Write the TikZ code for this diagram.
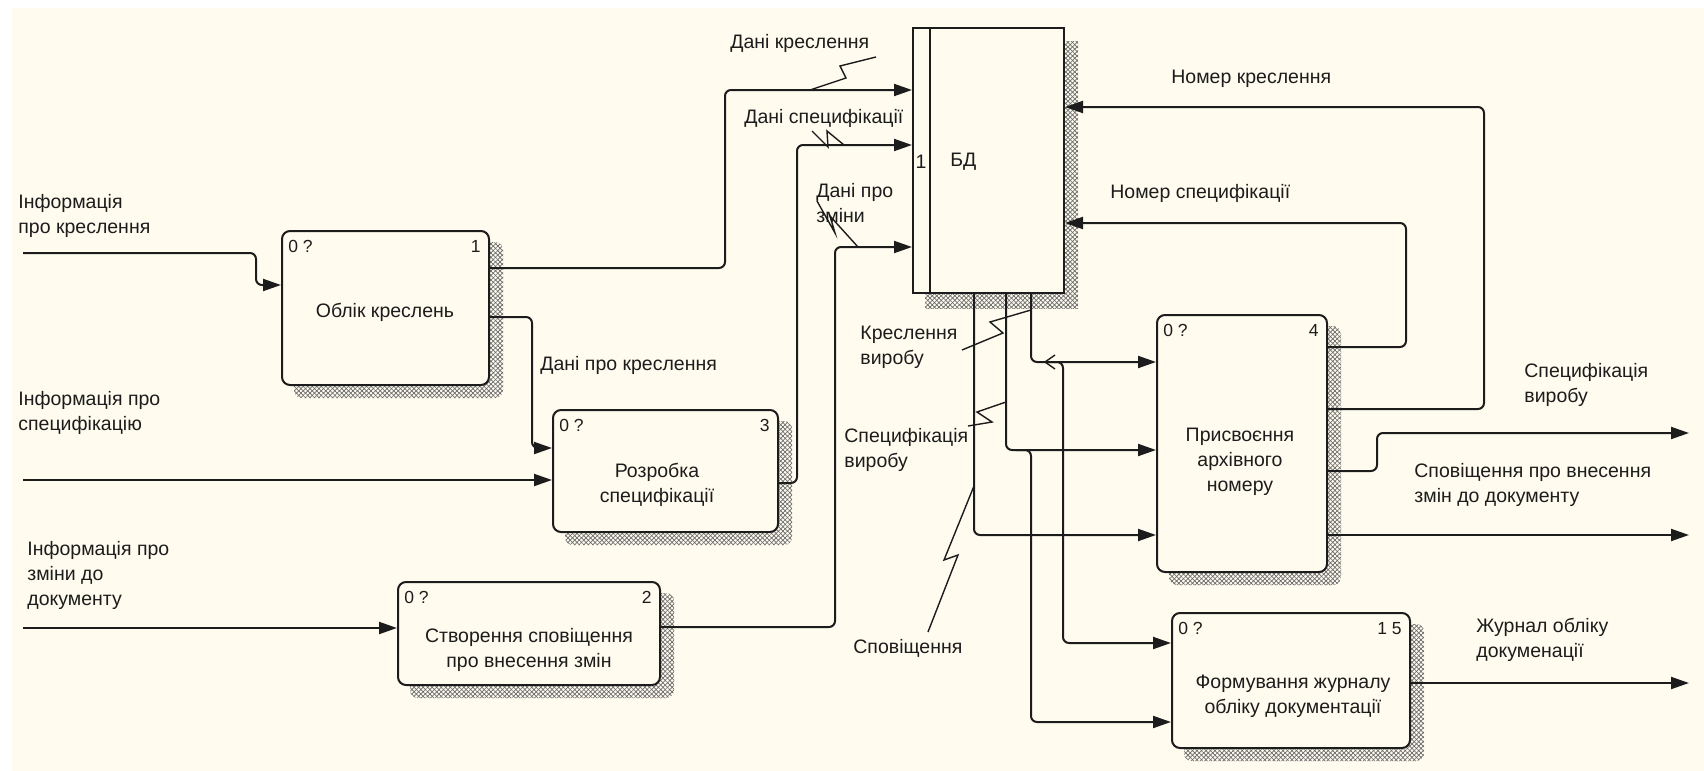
\documentclass[tikz,border=0pt]{standalone}
\usepackage{fontspec}
\setmainfont{Liberation Sans}
\usetikzlibrary{arrows.meta,patterns.meta,backgrounds}

\definecolor{paper}{HTML}{FFFBEF}
\definecolor{ink}{HTML}{1C1C1C}
\definecolor{hatch}{HTML}{6A6A6A}

\tikzset{
  proc/.style={draw=ink, line width=1pt, fill=paper, rounded corners=4pt, inner sep=0pt},
  store/.style={draw=ink, line width=1pt, fill=paper, inner sep=0pt},
  lbl/.style={font=\fontsize{9.75}{12.5}\selectfont, text=ink, inner sep=0pt, align=left},
  ttl/.style={lbl, align=center},
  tag/.style={font=\fontsize{8.75}{10}\selectfont, text=ink, inner sep=0pt},
  flow/.style={draw=ink, line width=1pt, rounded corners=3pt, -{Triangle[length=9pt,width=6pt]}},
  bolt/.style={draw=ink, line width=0.7pt},
  hatched/.style={
    preaction={fill=paper},
    preaction={pattern={Lines[angle=45,distance=1.6pt,line width=0.35pt]}, pattern color=hatch},
    pattern={Lines[angle=-45,distance=1.6pt,line width=0.35pt]}, pattern color=hatch}
}

\begin{document}
\begin{tikzpicture}[x=0.5pt,y=-0.5pt]
\useasboundingbox (0,0) rectangle (1704,771);

% activity boxes and the data store
\node[proc, minimum width=103.5pt, minimum height=77pt]   (b1) at (385.5,308) {};
\node[proc, minimum width=112.5pt, minimum height=61pt]   (b3) at (665.5,471) {};
\node[proc, minimum width=131pt,   minimum height=51.5pt] (b2) at (529,633.5) {};
\node[store, minimum width=75.5pt, minimum height=132.5pt] (db) at (988.5,160.5) {};
\node[proc, minimum width=85pt,    minimum height=128.5pt] (b4) at (1242,443.5) {};
\node[proc, minimum width=119pt,   minimum height=67.5pt]  (b5) at (1291,680.5) {};

% page and drop shadows
\begin{scope}[on background layer]
  \fill[white] (0,0) rectangle (1704,771);
  \fill[paper] (12,8) rectangle (1704,771);
  \foreach \b in {b1,b2,b3,b4,b5}
    \path[hatched, rounded corners=4pt]
      ([xshift=6.5pt,yshift=-6pt]\b.south west) rectangle ([xshift=6.5pt,yshift=-6pt]\b.north east);
  \path[hatched] ([xshift=6.5pt,yshift=-7pt]db.south west) rectangle ([xshift=6.5pt,yshift=-7pt]db.north east);
\end{scope}

% data store divider and captions
\draw[ink, line width=1pt] (930,0 |- db.north) -- (930,0 |- db.south);
\node[lbl] (dbn) at (921,162) {1};
\node[lbl, anchor=west] (dbt) at (950,162) {БД};

% box titles
\node[ttl] (t1) at (385,312) {Облік креслень};
\node[ttl] (t3) at (657,485) {Розробка\\специфікації};
\node[ttl] (t2) at (529,650) {Створення сповіщення\\про внесення змін};
\node[ttl] (t4) at (1240,462) {Присвоєння\\архівного\\номеру};
\node[ttl] (t5) at (1293,696) {Формування журналу\\обліку документації};

% corner tags
\foreach \b/\n in {b1/1,b3/3,b2/2,b4/4,b5/1 5}{
  \node[tag, anchor=north west] (\b z) at ([xshift=3.5pt,yshift=-5pt]\b.north west) {0 ?};
  \node[tag, anchor=north east] (\b k) at ([xshift=-4.5pt,yshift=-5pt]\b.north east) {\n};
}

% free ends
\coordinate (in1) at (23,253);
\coordinate (in2) at (23,480);
\coordinate (in3) at (23,628);
\coordinate (out1) at (1689,433);
\coordinate (out2) at (1689,535);
\coordinate (out3) at (1689,683);
\coordinate (j1) at (1046,362);
\coordinate (j2) at (1016,450);

% inputs
\draw[flow] (in1) -| (256,285) -- (b1.west |- 0,285);
\draw[flow] (in2) -- (b3.west |- in2);
\draw[flow] (in3) -- (b2.west |- in3);

% internal flows
\draw[flow] (b1.east |- 0,317) -| (532,448) -- (b3.west |- 0,448);
\draw[flow] (b1.east |- 0,268) -| (725,90) -- (db.west |- 0,90);
\draw[flow] (b3.east |- 0,483) -| (797,145) -- (db.west |- 0,145);
\draw[flow] (b2.east |- 0,627) -| (835,247) -- (db.west |- 0,247);
\draw[flow] (b4.east |- 0,409) -| (1484,107) -- (db.east |- 0,107);
\draw[flow] (b4.east |- 0,347) -| (1406,223) -- (db.east |- 0,223);

% from the store
\draw[flow] (db.south -| 974,0) |- (b4.west |- 0,535);
\draw[flow] (db.south -| 1006,0) |- (b4.west |- 0,450);
\draw[flow] (db.south -| 1031,0) |- (b4.west |- 0,362);
\draw[bolt] (1055,355) -- (1045,362) -- (1055,369);
\draw[flow] (j1) -| (1063,643) -- (b5.west |- 0,643);
\draw[flow] (j2) -| (1031,722) -- (b5.west |- 0,722);

% outputs
\draw[flow] (b4.east |- 0,471) -| (1377,433) -- (out1);
\draw[flow] (b4.east |- 0,535) -- (out2);
\draw[flow] (b5.east |- 0,683) -- (out3);

% arrow labels
\node[lbl, anchor=west] (l1) at (18,215.5) {Інформація\\про креслення};
\node[lbl, anchor=west] (l2) at (18,412.5) {Інформація про\\специфікацію};
\node[lbl, anchor=west] (l3) at (27,575) {Інформація про\\зміни до\\документу};
\node[lbl, anchor=west] (l4) at (540,365) {Дані про креслення};
\node[lbl, anchor=west] (l5) at (730,43) {Дані креслення};
\node[lbl, anchor=west] (l6) at (744,118) {Дані специфікації};
\node[lbl, anchor=west] (l7) at (816,203.5) {Дані про\\зміни};
\node[lbl, anchor=west] (l8) at (1171,79) {Номер креслення};
\node[lbl, anchor=west] (l9) at (1110,193) {Номер специфікації};
\node[lbl, anchor=west] (l10) at (1524,384.5) {Специфікація\\виробу};
\node[lbl, anchor=west] (l11) at (1414,485) {Сповіщення про внесення\\змін до документу};
\node[lbl, anchor=west] (l12) at (1476,639.5) {Журнал обліку\\докуменації};
\node[lbl, anchor=west] (l13) at (860,347.5) {Креслення\\виробу};
\node[lbl, anchor=west] (l14) at (844,449.5) {Специфікація\\виробу};
\node[lbl, anchor=west] (l15) at (853,648) {Сповіщення};

% squiggles tying labels to their arrows
\draw[bolt] (876,57) -- (840,66) -- (846,78) -- (810,90);
\draw[bolt] (812,131) -- (828,147) -- (827,131) -- (844,145);
\draw[bolt] (817,201) -- (835,233) -- (830,216) -- (858,247);
\draw[bolt] (962,350) -- (1003,333) -- (990,322) -- (1031,310);
\draw[bolt] (968,426) -- (992,422) -- (977,412) -- (1006,402);
\draw[bolt] (928,632) -- (958,555) -- (944,560) -- (974,486);
\end{tikzpicture}
\end{document}
